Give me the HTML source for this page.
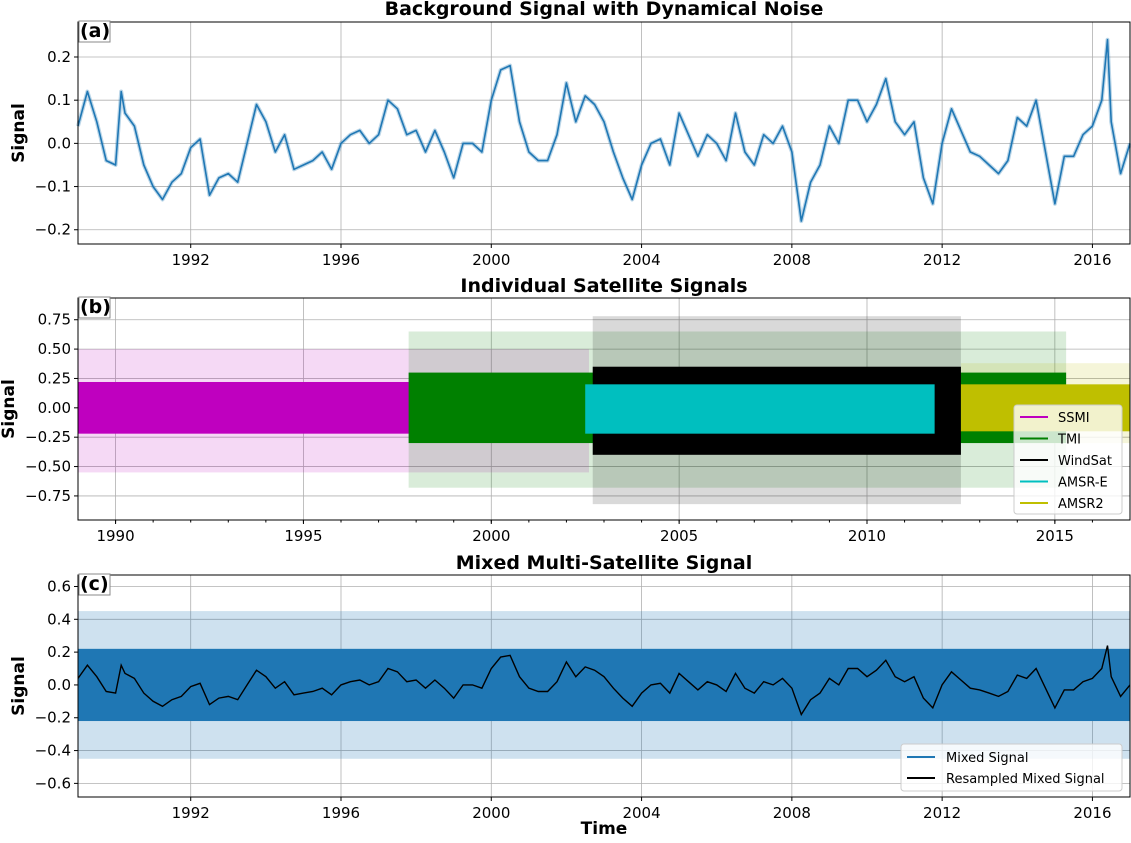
<!DOCTYPE html>
<html><head><meta charset="utf-8">
<style>
body{margin:0;background:#fff;}
svg text{font-family:"DejaVu Sans","Liberation Sans",sans-serif;}
</style></head>
<body>
<svg id="fig" width="1131" height="838" xmlns="http://www.w3.org/2000/svg"></svg>
<script>
// ---- data ----
const bgYears = [1989.0,1989.25,1989.5,1989.75,1990.0,1990.15,1990.25,1990.5,1990.75,1991.0,1991.25,1991.5,1991.75,1992.0,1992.25,1992.5,1992.75,1993.0,1993.25,1993.5,1993.75,1994.0,1994.25,1994.5,1994.75,1995.0,1995.25,1995.5,1995.75,1996.0,1996.25,1996.5,1996.75,1997.0,1997.25,1997.5,1997.75,1998.0,1998.25,1998.5,1998.75,1999.0,1999.25,1999.5,1999.75,2000.0,2000.25,2000.5,2000.75,2001.0,2001.25,2001.5,2001.75,2002.0,2002.25,2002.5,2002.75,2003.0,2003.25,2003.5,2003.75,2004.0,2004.25,2004.5,2004.75,2005.0,2005.25,2005.5,2005.75,2006.0,2006.25,2006.5,2006.75,2007.0,2007.25,2007.5,2007.75,2008.0,2008.25,2008.5,2008.75,2009.0,2009.25,2009.5,2009.75,2010.0,2010.25,2010.5,2010.75,2011.0,2011.25,2011.5,2011.75,2012.0,2012.25,2012.5,2012.75,2013.0,2013.25,2013.5,2013.75,2014.0,2014.25,2014.5,2014.75,2015.0,2015.25,2015.5,2015.75,2016.0,2016.25,2016.4,2016.5,2016.75,2017.0];
const bgValues = [0.04,0.12,0.05,-0.04,-0.05,0.12,0.07,0.04,-0.05,-0.10,-0.13,-0.09,-0.07,-0.01,0.01,-0.12,-0.08,-0.07,-0.09,0.0,0.09,0.05,-0.02,0.02,-0.06,-0.05,-0.04,-0.02,-0.06,0.0,0.02,0.03,0.0,0.02,0.10,0.08,0.02,0.03,-0.02,0.03,-0.02,-0.08,0.0,0.0,-0.02,0.10,0.17,0.18,0.05,-0.02,-0.04,-0.04,0.02,0.14,0.05,0.11,0.09,0.05,-0.02,-0.08,-0.13,-0.05,0.0,0.01,-0.05,0.07,0.02,-0.03,0.02,0.0,-0.04,0.07,-0.02,-0.05,0.02,0.0,0.04,-0.02,-0.18,-0.09,-0.05,0.04,0.0,0.10,0.10,0.05,0.09,0.15,0.05,0.02,0.05,-0.08,-0.14,0.0,0.08,0.03,-0.02,-0.03,-0.05,-0.07,-0.04,0.06,0.04,0.10,-0.02,-0.14,-0.03,-0.03,0.02,0.04,0.10,0.24,0.05,-0.07,0.0];
const satNames = ["SSMI","TMI","WindSat","AMSR-E","AMSR2"];
const satColors = ["#bf00bf","#008000","#000000","#00bfbf","#bfbf00"];
const satStart = [1989.0,1997.8,2002.7,2002.5,2012.5];
const satEnd   = [2002.6,2015.3,2012.5,2011.8,2017.0];
const satCoreHi = [0.22,0.30,0.35,0.20,0.20];
const satCoreLo = [-0.22,-0.30,-0.40,-0.22,-0.20];
const satPeakHi = [0.50,0.65,0.78,0.27,0.38];
const satPeakLo = [-0.55,-0.68,-0.82,-0.30,-0.30];
const mixCore = [0.22,-0.22];
const mixPeak = [0.45,-0.45];
const ticksA = [-0.2,-0.1,0.0,0.1,0.2];
const ticksB = [-0.75,-0.5,-0.25,0.0,0.25,0.5,0.75];
const ticksC = [-0.6,-0.4,-0.2,0.0,0.2,0.4,0.6];
const xTicks4 = [1992,1996,2000,2004,2008,2012,2016];
const xTicks5 = [1990,1995,2000,2005,2010,2015];

const NS="http://www.w3.org/2000/svg";
const svg=document.getElementById('fig');
function mk(tag,attrs,parent){const e=document.createElementNS(NS,tag);for(const k in attrs)e.setAttribute(k,attrs[k]);(parent||svg).appendChild(e);return e;}
const X0=78,X1=1130,T0=1989.0,T1=2017.0;
function xs(t){return X0+(t-T0)/(T1-T0)*(X1-X0);}
function makeY(top,bottom,vmax,vmin){return v=>top+(vmax-v)/(vmax-vmin)*(bottom-top);}

function panel(p){
  const g=mk('g',{});
  
  
  const y=p.y;
  p.yt.forEach(v=>{const l=mk('line',{x1:X0,x2:X1,y1:y(v),y2:y(v),stroke:'#b0b0b0','stroke-width':0.8},g);
    
    mk('line',{x1:X0-4,x2:X0,y1:y(v),y2:y(v),stroke:'#000'},g);
    const t=mk('text',{x:X0-7,y:y(v)+5,'text-anchor':'end','font-size':15},g);
    
    t.textContent=(v<0?'\u2212':'')+Math.abs(v).toFixed(p.dec);});
  p.xt.forEach(v=>{const l=mk('line',{x1:xs(v),x2:xs(v),y1:p.top,y2:p.bottom,stroke:'#b0b0b0','stroke-width':0.8},g);
    
    mk('line',{x1:xs(v),x2:xs(v),y1:p.bottom,y2:p.bottom+4,stroke:'#000'},g);
    const t=mk('text',{x:xs(v),y:p.bottom+21,'text-anchor':'middle','font-size':15},g);
    
    t.textContent=v;});
  if(p.minor){for(let yr=1990;yr<=2016;yr++){mk('line',{x1:xs(yr),x2:xs(yr),y1:p.bottom,y2:p.bottom+2.5,stroke:'#000'},g);}}
  p.draw(g,y);
  mk('rect',{x:X0,y:p.top,width:X1-X0,height:p.bottom-p.top,fill:'none',stroke:'#000','stroke-width':1},g);
  const tt=mk('text',{x:604,y:p.titleY,'text-anchor':'middle','font-size':19,'font-weight':'bold'},g);
  
  tt.textContent=p.title;
  const yl=mk('text',{x:0,y:0,'text-anchor':'middle','font-size':17,'font-weight':'bold',transform:`translate(${p.ylx},${(p.top+p.bottom)/2}) rotate(-90)`},g);
  
  yl.textContent='Signal';
  mk('rect',{x:X0+1,y:p.top-1,width:31,height:21,fill:'#fff',stroke:'#888','stroke-width':1},g);
  const pl=mk('text',{x:X0+2,y:p.top+15,'font-size':19,'font-weight':'bold'},g);
  
  pl.textContent=p.label;
  return g;
}
function bgPath(y){return bgYears.map((t,i)=>(i?'L':'M')+xs(t).toFixed(1)+','+y(bgValues[i]).toFixed(1)).join('');}
function band(g,t0,t1,hi,lo,y,color,op){return mk('rect',{x:xs(t0),y:y(hi),width:xs(t1)-xs(t0),height:y(lo)-y(hi),fill:color,opacity:op},g);}

// Panel A
const yA=makeY(22,244,0.281,-0.233);
panel({name:'panel-a',top:22,bottom:244,titleY:15,y:yA,yt:ticksA,xt:xTicks4,dec:1,title:'Background Signal with Dynamical Noise',label:'(a)',ylx:24,
 draw:(g,y)=>{
  const h=mk('path',{d:bgPath(y),fill:'none',stroke:'#1f77b4','stroke-width':4,opacity:0.3,'stroke-linejoin':'round'},g);
  
  const l=mk('path',{d:bgPath(y),fill:'none',stroke:'#1f77b4','stroke-width':1.6,'stroke-linejoin':'round'},g);
  
 }});

// Panel B
const yB=makeY(298,520,0.935,-0.955);
panel({name:'panel-b',top:298,bottom:520,titleY:292,y:yB,yt:ticksB,xt:xTicks5,dec:2,minor:true,title:'Individual Satellite Signals',label:'(b)',ylx:14,
 draw:(g,y)=>{
  satNames.forEach((n,i)=>{
    const a=band(g,satStart[i],satEnd[i],satPeakHi[i],satPeakLo[i],y,satColors[i],0.15);
    
  });
  satNames.forEach((n,i)=>{
    const b=band(g,satStart[i],satEnd[i],satCoreHi[i],satCoreLo[i],y,satColors[i],1);
    
  });
  const lg=mk('g',{},g);
  
  mk('rect',{x:1014,y:405,width:108,height:109,rx:3,fill:'#fff','fill-opacity':0.8,stroke:'#ccc'},lg);
  satNames.forEach((n,i)=>{
    const yy=417+i*21.5;
    mk('line',{x1:1020,x2:1048,y1:yy,y2:yy,stroke:satColors[i],'stroke-width':2},lg);
    const t=mk('text',{x:1058,y:yy+5,'font-size':13},lg);
    
    t.textContent=n;
  });
 }});

// Panel C
const yC=makeY(575,797,0.67,-0.683);
panel({name:'panel-c',top:575,bottom:797,titleY:569,y:yC,yt:ticksC,xt:xTicks4,dec:1,title:'Mixed Multi-Satellite Signal',label:'(c)',ylx:24,
 draw:(g,y)=>{
  const a=band(g,T0,T1,mixPeak[0],mixPeak[1],y,'#1f77b4',0.22);
  
  const b=band(g,T0,T1,mixCore[0],mixCore[1],y,'#1f77b4',1);
  
  const l=mk('path',{d:bgPath(y),fill:'none',stroke:'#000','stroke-width':1.4},g);
  
  const lg=mk('g',{},g);
  
  mk('rect',{x:901,y:744,width:221,height:47,rx:3,fill:'#fff','fill-opacity':0.8,stroke:'#ccc'},lg);
  mk('line',{x1:907,x2:935,y1:757,y2:757,stroke:'#1f77b4','stroke-width':2},lg);
  const t1=mk('text',{x:946,y:762,'font-size':13},lg);
  
  t1.textContent='Mixed Signal';
  mk('line',{x1:907,x2:935,y1:778,y2:778,stroke:'#000','stroke-width':2},lg);
  const t2=mk('text',{x:946,y:783,'font-size':13},lg);
  
  t2.textContent='Resampled Mixed Signal';
 }});
const xt=mk('text',{x:604,y:834,'text-anchor':'middle','font-size':17,'font-weight':'bold'});


xt.textContent='Time';
</script>
</body></html>
